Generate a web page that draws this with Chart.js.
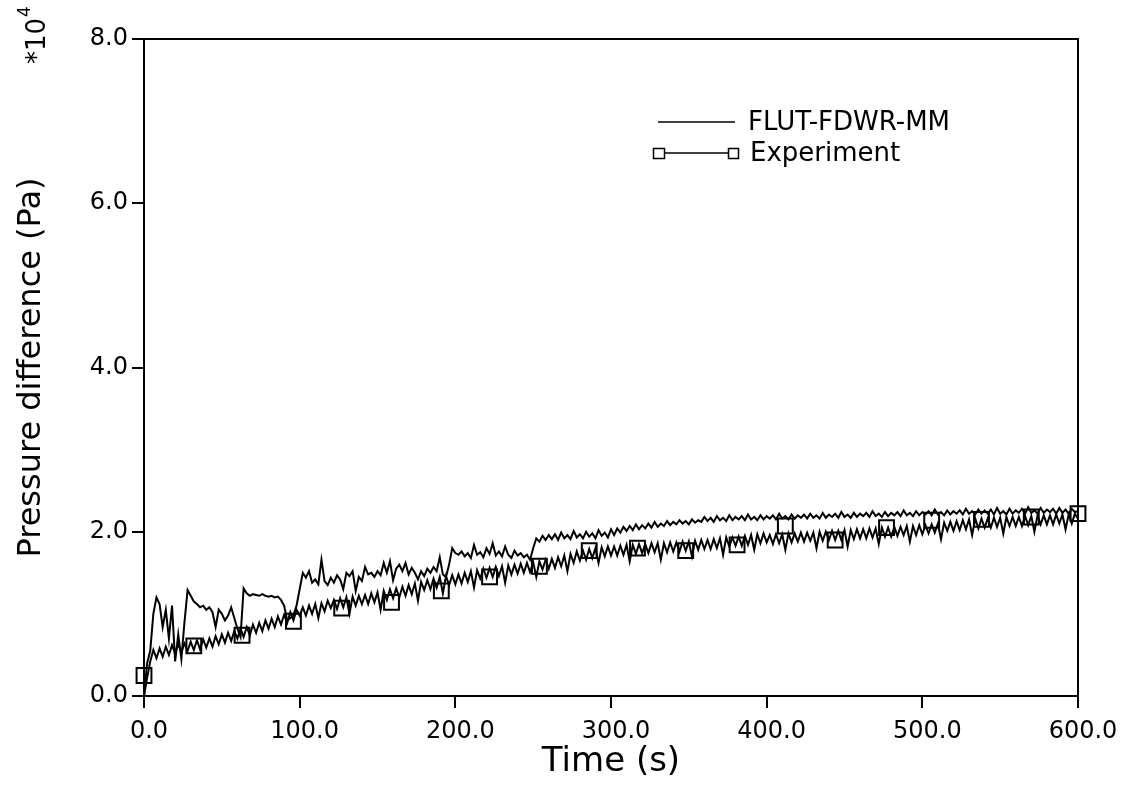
<!DOCTYPE html>
<html>
<head>
<meta charset="utf-8">
<script src="https://cdn.jsdelivr.net/npm/chart.js@4/dist/chart.umd.min.js"></script>
<style>
  html, body { margin: 0; padding: 0; background: #fff; }
  #plot { display: block; }
</style>
</head>
<body>
<canvas id="plot" width="1128" height="787"></canvas>
<script>
/* Dados (pressão em unidades de 10^4 Pa), amostras a cada 2 s */

const timeS = [
  0, 2, 4, 6, 8, 10, 12, 14, 16, 18,
  20, 22, 24, 26, 28, 30, 32, 34, 36, 38,
  40, 42, 44, 46, 48, 50, 52, 54, 56, 58,
  60, 62, 64, 66, 68, 70, 72, 74, 76, 78,
  80, 82, 84, 86, 88, 90, 92, 94, 96, 98,
  100, 102, 104, 106, 108, 110, 112, 114, 116, 118,
  120, 122, 124, 126, 128, 130, 132, 134, 136, 138,
  140, 142, 144, 146, 148, 150, 152, 154, 156, 158,
  160, 162, 164, 166, 168, 170, 172, 174, 176, 178,
  180, 182, 184, 186, 188, 190, 192, 194, 196, 198,
  200, 202, 204, 206, 208, 210, 212, 214, 216, 218,
  220, 222, 224, 226, 228, 230, 232, 234, 236, 238,
  240, 242, 244, 246, 248, 250, 252, 254, 256, 258,
  260, 262, 264, 266, 268, 270, 272, 274, 276, 278,
  280, 282, 284, 286, 288, 290, 292, 294, 296, 298,
  300, 302, 304, 306, 308, 310, 312, 314, 316, 318,
  320, 322, 324, 326, 328, 330, 332, 334, 336, 338,
  340, 342, 344, 346, 348, 350, 352, 354, 356, 358,
  360, 362, 364, 366, 368, 370, 372, 374, 376, 378,
  380, 382, 384, 386, 388, 390, 392, 394, 396, 398,
  400, 402, 404, 406, 408, 410, 412, 414, 416, 418,
  420, 422, 424, 426, 428, 430, 432, 434, 436, 438,
  440, 442, 444, 446, 448, 450, 452, 454, 456, 458,
  460, 462, 464, 466, 468, 470, 472, 474, 476, 478,
  480, 482, 484, 486, 488, 490, 492, 494, 496, 498,
  500, 502, 504, 506, 508, 510, 512, 514, 516, 518,
  520, 522, 524, 526, 528, 530, 532, 534, 536, 538,
  540, 542, 544, 546, 548, 550, 552, 554, 556, 558,
  560, 562, 564, 566, 568, 570, 572, 574, 576, 578,
  580, 582, 584, 586, 588, 590, 592, 594, 596, 598,
  600
];

const flutValues = [
  0.0, 0.4, 0.55, 1.0, 1.2, 1.12, 0.84, 1.05, 0.7, 1.1,
  0.42, 0.75, 0.45, 0.9, 1.29, 1.22, 1.15, 1.12, 1.08, 1.1,
  1.05, 1.08, 1.02, 0.84, 1.05, 1.0, 0.92, 0.98, 1.08, 0.95,
  0.82, 0.72, 1.31, 1.25, 1.22, 1.24, 1.23, 1.22, 1.24, 1.22,
  1.21, 1.22, 1.2, 1.21, 1.17, 1.1, 0.92, 0.95, 0.98, 1.1,
  1.3, 1.50, 1.44, 1.52, 1.38, 1.42, 1.36, 1.66, 1.40, 1.35,
  1.44, 1.38, 1.47, 1.42, 1.30, 1.50, 1.46, 1.52, 1.28, 1.45,
  1.40, 1.57, 1.48, 1.50, 1.45, 1.52, 1.47, 1.62, 1.50, 1.64,
  1.41, 1.55, 1.60, 1.52, 1.62, 1.48, 1.56, 1.50, 1.42, 1.52,
  1.46, 1.55, 1.50, 1.57, 1.52, 1.69, 1.48, 1.45, 1.60, 1.80,
  1.74, 1.72, 1.76, 1.70, 1.74, 1.68, 1.84, 1.72, 1.75, 1.69,
  1.80, 1.73, 1.86, 1.71, 1.76, 1.70, 1.82, 1.72, 1.68, 1.77,
  1.71, 1.74, 1.69, 1.72, 1.66, 1.80, 1.92, 1.88, 1.95, 1.90,
  1.96, 1.91, 1.97, 1.90, 1.99, 1.92, 1.96, 1.91, 2.01, 1.93,
  1.97, 1.92, 2.00, 1.94, 1.98, 1.92, 2.02, 1.95, 1.99, 1.93,
  2.03, 1.96, 2.04, 1.99, 2.06, 2.01, 2.07, 2.02, 2.09, 2.03,
  2.08, 2.04, 2.10, 2.05, 2.12, 2.06, 2.10, 2.07, 2.13, 2.08,
  2.12, 2.09, 2.14, 2.10, 2.13, 2.09, 2.15, 2.11, 2.14, 2.12,
  2.18, 2.13, 2.17, 2.12, 2.19, 2.14, 2.17, 2.13, 2.20, 2.14,
  2.18, 2.15, 2.19, 2.14, 2.21, 2.15, 2.18, 2.14, 2.20, 2.15,
  2.19, 2.16, 2.20, 2.15, 2.22, 2.16, 2.19, 2.15, 2.21, 2.16,
  2.20, 2.17, 2.21, 2.16, 2.22, 2.17, 2.20, 2.16, 2.23, 2.17,
  2.21, 2.18, 2.22, 2.17, 2.24, 2.18, 2.21, 2.17, 2.23, 2.18,
  2.22, 2.19, 2.23, 2.18, 2.25, 2.19, 2.22, 2.18, 2.24, 2.19,
  2.23, 2.20, 2.24, 2.19, 2.26, 2.20, 2.23, 2.19, 2.25, 2.20,
  2.24, 2.21, 2.25, 2.20, 2.27, 2.21, 2.24, 2.20, 2.26, 2.21,
  2.25, 2.22, 2.26, 2.21, 2.28, 2.22, 2.25, 2.21, 2.27, 2.22,
  2.26, 2.22, 2.27, 2.21, 2.29, 2.22, 2.25, 2.21, 2.28, 2.22,
  2.26, 2.23, 2.28, 2.22, 2.30, 2.23, 2.26, 2.22, 2.29, 2.23,
  2.27, 2.24, 2.28, 2.22, 2.29, 2.23, 2.27, 2.22, 2.28, 2.24,
  2.25
];

const expValues = [
  0.0, 0.22, 0.42, 0.56, 0.46, 0.58, 0.48, 0.6, 0.5, 0.62,
  0.52, 0.63, 0.53, 0.64, 0.55, 0.66, 0.56, 0.68, 0.57, 0.69,
  0.59, 0.7, 0.6, 0.73, 0.63, 0.75, 0.65, 0.77, 0.67, 0.79,
  0.7, 0.82, 0.72, 0.84, 0.74, 0.87, 0.77, 0.89, 0.79, 0.92,
  0.82, 0.94, 0.84, 0.97, 0.87, 0.99, 0.89, 1.02, 0.92, 1.05,
  0.98, 1.08, 0.98, 1.10, 1.00, 1.12, 0.95, 1.13, 1.03, 1.16,
  1.07, 1.17, 1.06, 1.19, 1.08, 1.20, 1.00, 1.21, 1.10, 1.22,
  1.12, 1.23, 1.12, 1.25, 1.14, 1.26, 1.05, 1.28, 1.17, 1.30,
  1.19, 1.31, 1.20, 1.33, 1.22, 1.35, 1.24, 1.37, 1.16, 1.39,
  1.29, 1.41, 1.30, 1.43, 1.32, 1.45, 1.25, 1.46, 1.35, 1.47,
  1.36, 1.48, 1.37, 1.50, 1.39, 1.52, 1.32, 1.53, 1.43, 1.55,
  1.44, 1.56, 1.45, 1.57, 1.46, 1.58, 1.38, 1.59, 1.48, 1.60,
  1.49, 1.61, 1.50, 1.62, 1.51, 1.63, 1.45, 1.64, 1.54, 1.66,
  1.55, 1.67, 1.56, 1.69, 1.58, 1.71, 1.52, 1.73, 1.62, 1.76,
  1.65, 1.77, 1.66, 1.79, 1.68, 1.80, 1.62, 1.81, 1.70, 1.82,
  1.71, 1.82, 1.71, 1.83, 1.72, 1.84, 1.64, 1.84, 1.73, 1.85,
  1.74, 1.85, 1.74, 1.86, 1.75, 1.86, 1.66, 1.86, 1.75, 1.87,
  1.76, 1.87, 1.76, 1.88, 1.77, 1.88, 1.70, 1.89, 1.78, 1.90,
  1.79, 1.90, 1.79, 1.91, 1.80, 1.92, 1.72, 1.93, 1.82, 1.93,
  1.83, 1.94, 1.83, 1.95, 1.84, 1.96, 1.78, 1.97, 1.86, 1.98,
  1.87, 1.96, 1.85, 1.97, 1.86, 1.97, 1.78, 1.98, 1.87, 1.98,
  1.88, 1.99, 1.88, 1.99, 1.89, 1.99, 1.80, 2.00, 1.89, 2.00,
  1.90, 2.01, 1.90, 2.01, 1.90, 2.02, 1.82, 2.02, 1.91, 2.03,
  1.92, 2.03, 1.92, 2.04, 1.93, 2.04, 1.85, 2.05, 1.94, 2.05,
  1.94, 2.06, 1.95, 2.06, 1.96, 2.07, 1.88, 2.07, 1.96, 2.08,
  1.97, 2.08, 1.98, 2.09, 1.99, 2.10, 1.91, 2.11, 2.01, 2.12,
  2.01, 2.13, 2.02, 2.14, 2.03, 2.15, 1.96, 2.16, 2.04, 2.16,
  2.05, 2.16, 2.05, 2.17, 2.06, 2.17, 1.98, 2.18, 2.07, 2.18,
  2.07, 2.18, 2.07, 2.19, 2.08, 2.19, 2.00, 2.20, 2.09, 2.20,
  2.09, 2.20, 2.09, 2.21, 2.10, 2.21, 2.03, 2.21, 2.10, 2.22,
  2.16
];

/* Marcadores quadrados da série experimental */
const markerTimeS = [0, 32, 63, 96, 127, 159, 191, 222, 254, 286, 317, 348, 381, 412, 444, 477, 506, 538, 570, 600];
const markerValues = [0.25, 0.61, 0.74, 0.91, 1.07, 1.14, 1.28, 1.45, 1.58, 1.77, 1.8, 1.77, 1.84, 2.07, 1.9, 2.05, 2.14, 2.15, 2.18, 2.22];

const xTicks = [0, 100, 200, 300, 400, 500, 600];
const yTicks = [0, 2, 4, 6, 8];

const seriesNames = ["FLUT-FDWR-MM", "Experiment"];

function pares(xs, ys) {
  return xs.map(function (x, i) { return { x: x, y: ys[i] }; });
}

Chart.defaults.font.family = "'DejaVu Sans', sans-serif";
Chart.defaults.color = "#000";

/* Moldura (topo e direita), legenda e o fator *10^4 */
const moldura = {
  id: "moldura",
  afterDraw(chart) {
    const ctx = chart.ctx;
    const a = chart.chartArea;
    ctx.save();
    ctx.strokeStyle = "#000";
    ctx.lineWidth = 2;
    ctx.beginPath();
    ctx.moveTo(a.left, a.top);
    ctx.lineTo(a.right, a.top);
    ctx.lineTo(a.right, a.bottom);
    ctx.stroke();

    // legenda
    ctx.font = "26px 'DejaVu Sans'";
    ctx.textBaseline = "middle";
    ctx.fillStyle = "#000";
    ctx.lineWidth = 1.5;
    ctx.beginPath();
    ctx.moveTo(658, 122);
    ctx.lineTo(735, 122);
    ctx.stroke();
    ctx.fillText(seriesNames[0], 748, 123);

    ctx.beginPath();
    ctx.moveTo(665, 153);
    ctx.lineTo(728, 153);
    ctx.stroke();
    ctx.strokeRect(653.5, 148.5, 11, 10);
    ctx.strokeRect(728.5, 148.5, 10, 10);
    ctx.fillText(seriesNames[1], 750, 154);

    // *10^4
    ctx.translate(45, 64);
    ctx.rotate(-Math.PI / 2);
    ctx.textBaseline = "alphabetic";
    ctx.font = "26px 'DejaVu Sans'";
    ctx.fillText("*10", 0, 0);
    const w = ctx.measureText("*10").width;
    ctx.font = "17px 'DejaVu Sans'";
    ctx.fillText("4", w + 1, -15);
    ctx.restore();
  }
};

const config = {
  type: "line",
  data: {
    datasets: [
      {
        label: seriesNames[0],
        data: pares(timeS, flutValues),
        borderColor: "#000",
        borderWidth: 2,
        pointRadius: 0,
        tension: 0,
        clip: false
      },
      {
        label: seriesNames[1],
        data: pares(timeS, expValues),
        borderColor: "#000",
        borderWidth: 2,
        pointRadius: 0,
        tension: 0,
        clip: false
      },
      {
        label: seriesNames[1] + " markers",
        data: pares(markerTimeS, markerValues),
        showLine: false,
        pointStyle: "rect",
        pointRadius: 10.5,
        pointBorderWidth: 2,
        pointBorderColor: "#000",
        pointBackgroundColor: "rgba(0,0,0,0)",
        clip: false
      }
    ]
  },
  options: {
    responsive: false,
    animation: false,
    devicePixelRatio: 1,
    layout: { padding: { left: 0, right: 50, top: 39, bottom: 0 } },
    plugins: {
      legend: { display: false },
      tooltip: { enabled: false }
    },
    scales: {
      x: {
        type: "linear",
        min: 0,
        max: 600,
        afterFit(scale) { scale.height = 91; },
        afterBuildTicks(scale) { scale.ticks = xTicks.map(function (v) { return { value: v }; }); },
        ticks: {
          callback: function (v) { return v.toFixed(1); },
          font: { size: 24 },
          padding: 9,
          labelOffset: 5,
          maxRotation: 0
        },
        grid: {
          drawOnChartArea: false,
          drawTicks: true,
          tickLength: 12,
          color: "#000",
          lineWidth: 2
        },
        border: { display: true, color: "#000", width: 2 },
        title: {
          display: true,
          text: "Time (s)",
          font: { size: 34 },
          padding: { top: 0, bottom: 4 }
        }
      },
      y: {
        type: "linear",
        min: 0,
        max: 8,
        afterFit(scale) { scale.width = 144; },
        afterBuildTicks(scale) { scale.ticks = yTicks.map(function (v) { return { value: v }; }); },
        ticks: {
          callback: function (v) { return v.toFixed(1); },
          font: { size: 24 },
          padding: 4
        },
        grid: {
          drawOnChartArea: false,
          drawTicks: true,
          tickLength: 12,
          color: "#000",
          lineWidth: 2
        },
        border: { display: true, color: "#000", width: 2 },
        title: {
          display: true,
          text: "Pressure difference (Pa)",
          font: { size: 32 },
          padding: { top: 12, bottom: 0 }
        }
      }
    }
  },
  plugins: [moldura]
};

const myChart = new Chart(document.getElementById("plot"), config);
</script>
</body>
</html>
